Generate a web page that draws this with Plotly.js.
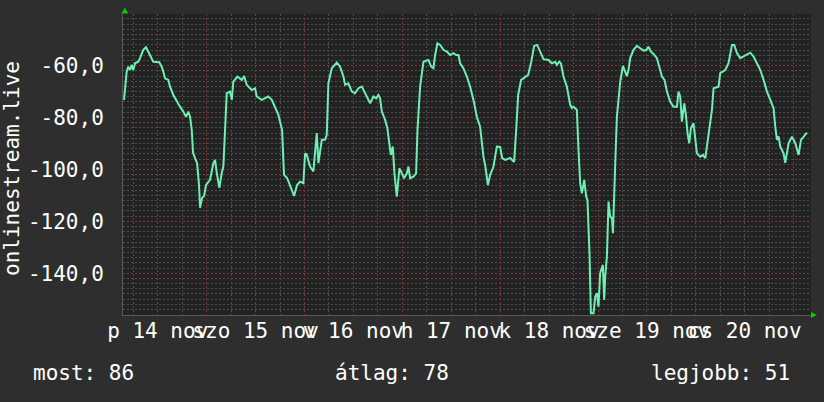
<!DOCTYPE html>
<html>
<head>
<meta charset="utf-8">
<script src="https://cdn.plot.ly/plotly-3.0.1.min.js"></script>
<style>html,body{margin:0;padding:0;background:#2e2e2e;}#chart{width:824px;height:402px;}</style>
</head>
<body>
<div id="chart"></div>
<script>
// ---- data ----
const times = [
"2025-11-14 03:44","2025-11-14 04:23","2025-11-14 04:47","2025-11-14 05:12","2025-11-14 05:37","2025-11-14 06:01","2025-11-14 06:26","2025-11-14 07:14","2025-11-14 07:39","2025-11-14 08:28",
"2025-11-14 09:08","2025-11-14 09:41","2025-11-14 10:32","2025-11-14 10:55","2025-11-14 12:23","2025-11-14 12:59","2025-11-14 13:22","2025-11-14 13:47","2025-11-14 14:36","2025-11-14 15:01",
"2025-11-14 15:50","2025-11-14 16:40","2025-11-14 17:28","2025-11-14 18:17","2025-11-14 18:57","2025-11-14 19:31","2025-11-14 19:56","2025-11-14 20:21","2025-11-14 20:40","2025-11-14 21:09",
"2025-11-14 21:39","2025-11-14 22:08","2025-11-14 22:23","2025-11-14 22:52","2025-11-14 23:22","2025-11-14 23:51",
"2025-11-15 00:21","2025-11-15 00:50","2025-11-15 01:39","2025-11-15 02:04","2025-11-15 02:29","2025-11-15 03:07","2025-11-15 03:43","2025-11-15 04:06","2025-11-15 04:31","2025-11-15 04:56",
"2025-11-15 05:44","2025-11-15 06:10","2025-11-15 06:33","2025-11-15 07:32","2025-11-15 08:37","2025-11-15 09:11","2025-11-15 09:50","2025-11-15 11:04","2025-11-15 11:53","2025-11-15 12:17",
"2025-11-15 13:31","2025-11-15 15:08","2025-11-15 15:59","2025-11-15 16:47","2025-11-15 17:36","2025-11-15 18:30","2025-11-15 18:59","2025-11-15 19:44","2025-11-15 20:28","2025-11-15 21:27",
"2025-11-15 22:11","2025-11-15 22:55","2025-11-15 23:44",
"2025-11-16 00:09","2025-11-16 00:34","2025-11-16 01:22","2025-11-16 02:11","2025-11-16 03:01","2025-11-16 03:25","2025-11-16 04:15","2025-11-16 05:04","2025-11-16 05:28","2025-11-16 05:52",
"2025-11-16 06:42","2025-11-16 07:56","2025-11-16 08:44","2025-11-16 09:33","2025-11-16 09:58","2025-11-16 10:46","2025-11-16 11:37","2025-11-16 12:25","2025-11-16 13:14","2025-11-16 14:04",
"2025-11-16 14:52","2025-11-16 15:41","2025-11-16 16:06","2025-11-16 16:55","2025-11-16 17:34","2025-11-16 18:08","2025-11-16 18:33","2025-11-16 18:58","2025-11-16 19:47","2025-11-16 20:20",
"2025-11-16 20:46","2025-11-16 21:11","2025-11-16 21:40","2025-11-16 22:04","2025-11-16 22:39","2025-11-16 23:17","2025-11-16 23:53",
"2025-11-17 00:26","2025-11-17 01:06","2025-11-17 01:30","2025-11-17 01:55","2025-11-17 02:43","2025-11-17 03:23","2025-11-17 03:43","2025-11-17 04:22","2025-11-17 05:11","2025-11-17 06:25",
"2025-11-17 07:04","2025-11-17 07:38","2025-11-17 08:03","2025-11-17 08:37","2025-11-17 09:17","2025-11-17 10:05","2025-11-17 10:55","2025-11-17 11:44","2025-11-17 12:32","2025-11-17 13:12",
"2025-11-17 13:46","2025-11-17 14:11","2025-11-17 14:59","2025-11-17 15:50","2025-11-17 16:38","2025-11-17 17:27","2025-11-17 18:17","2025-11-17 19:05","2025-11-17 19:54","2025-11-17 20:23",
"2025-11-17 20:59","2025-11-17 21:33","2025-11-17 22:22","2025-11-17 23:11",
"2025-11-18 00:00","2025-11-18 00:29","2025-11-18 01:14","2025-11-18 02:27","2025-11-18 03:26","2025-11-18 03:56","2025-11-18 04:25","2025-11-18 05:09","2025-11-18 06:08","2025-11-18 06:52",
"2025-11-18 07:37","2025-11-18 08:20","2025-11-18 09:05","2025-11-18 09:49","2025-11-18 10:38","2025-11-18 11:51","2025-11-18 12:41","2025-11-18 13:30","2025-11-18 13:55","2025-11-18 14:29",
"2025-11-18 14:54","2025-11-18 15:32","2025-11-18 16:22","2025-11-18 17:11","2025-11-18 17:36","2025-11-18 17:59","2025-11-18 18:49","2025-11-18 19:13","2025-11-18 19:38","2025-11-18 20:03",
"2025-11-18 20:37","2025-11-18 21:07","2025-11-18 21:25","2025-11-18 21:55","2025-11-18 22:15","2025-11-18 22:54","2025-11-18 23:19","2025-11-18 23:44",
"2025-11-19 00:07","2025-11-19 00:32","2025-11-19 01:12","2025-11-19 01:31","2025-11-19 01:46","2025-11-19 02:11","2025-11-19 02:35","2025-11-19 02:59","2025-11-19 03:25","2025-11-19 03:40",
"2025-11-19 03:48","2025-11-19 04:13","2025-11-19 04:38","2025-11-19 05:02","2025-11-19 05:27","2025-11-19 06:07","2025-11-19 06:40","2025-11-19 07:05","2025-11-19 07:29","2025-11-19 07:54",
"2025-11-19 08:43","2025-11-19 09:33","2025-11-19 10:22","2025-11-19 11:10","2025-11-19 11:50","2025-11-19 12:23","2025-11-19 12:59","2025-11-19 13:37","2025-11-19 14:27","2025-11-19 15:05",
"2025-11-19 15:41","2025-11-19 16:19","2025-11-19 16:55","2025-11-19 17:43","2025-11-19 18:32","2025-11-19 19:22","2025-11-19 19:45","2025-11-19 20:10","2025-11-19 20:35","2025-11-19 21:09",
"2025-11-19 21:34","2025-11-19 21:58","2025-11-19 22:23","2025-11-19 22:48","2025-11-19 23:26","2025-11-19 23:51",
"2025-11-20 00:16","2025-11-20 01:05","2025-11-20 01:44","2025-11-20 02:19","2025-11-20 02:43","2025-11-20 03:22","2025-11-20 03:57","2025-11-20 04:21","2025-11-20 05:34","2025-11-20 05:59",
"2025-11-20 07:13","2025-11-20 08:01","2025-11-20 08:52","2025-11-20 09:25","2025-11-20 10:05","2025-11-20 10:54","2025-11-20 11:43","2025-11-20 12:32","2025-11-20 13:21","2025-11-20 14:10",
"2025-11-20 15:00","2025-11-20 15:49","2025-11-20 16:37","2025-11-20 17:27","2025-11-20 18:16","2025-11-20 19:04","2025-11-20 19:29","2025-11-20 19:54","2025-11-20 20:18","2025-11-20 20:43",
"2025-11-20 21:31","2025-11-20 21:56","2025-11-20 22:45","2025-11-20 23:35",
"2025-11-21 00:24","2025-11-21 01:13","2025-11-21 01:48","2025-11-21 02:26","2025-11-21 03:16"
];
const values = [
-73.2,-62.3,-60.4,-61.7,-59.7,-61.7,-59.1,-58.5,-57.1,-53.9,
-52.9,-54.6,-57.1,-58.5,-58.7,-60.4,-62.3,-64.9,-65.5,-68.1,
-71.3,-73.9,-75.8,-77.7,-79.7,-77.7,-79.7,-84.8,-93.6,-95.6,
-97.5,-106.0,-114.8,-111.0,-110.2,-106.0,
-104.8,-104.0,-97.6,-96.3,-101.3,-107.1,-101.3,-98.9,-84.8,-70.6,
-70.0,-73.2,-66.2,-64.2,-65.5,-64.0,-67.4,-69.4,-68.7,-71.9,
-73.2,-71.9,-73.2,-75.8,-79.0,-84.8,-102.1,-103.3,-106.0,-110.2,
-106.0,-104.7,-105.3,
-93.8,-94.4,-98.9,-100.8,-86.0,-97.6,-88.6,-88.6,-86.7,-66.8,
-61.0,-58.8,-60.4,-64.2,-67.4,-66.8,-70.0,-70.6,-68.7,-68.1,
-70.6,-72.6,-74.5,-71.9,-72.6,-71.3,-72.6,-77.7,-80.9,-84.1,
-90.6,-94.4,-91.2,-101.5,-110.5,-99.5,-101.5,
-103.4,-101.5,-98.9,-103.4,-102.8,-101.5,-84.8,-68.1,-58.5,-57.8,
-60.4,-61.0,-55.9,-51.4,-52.0,-53.9,-54.6,-55.9,-55.2,-55.9,
-55.9,-59.1,-61.0,-64.2,-68.1,-73.2,-79.7,-83.5,-95.1,-98.9,
-106.0,-102.1,-98.9,-91.2,
-91.3,-95.6,-96.3,-95.6,-97.1,-84.8,-71.3,-65.5,-64.4,-63.6,
-58.6,-52.4,-52.0,-54.6,-57.5,-57.8,-59.1,-58.5,-59.7,-58.5,
-59.1,-64.2,-68.1,-75.1,-76.4,-75.8,-77.1,-92.5,-105.3,-109.2,
-104.0,-110.5,-111.8,-132.3,-155.4,-155.4,-149.0,-147.7,
-152.9,-140.0,-136.8,-150.3,-141.3,-133.6,-112.4,-118.2,-118.8,-124.6,
-115.6,-98.3,-79.7,-73.2,-66.2,-60.1,-62.3,-64.0,-61.7,-57.1,
-53.9,-52.4,-53.3,-54.2,-54.0,-52.7,-54.6,-55.5,-57.1,-60.4,
-64.2,-65.5,-70.0,-73.9,-75.8,-75.8,-70.0,-71.9,-81.6,-74.5,
-79.0,-86.1,-89.9,-84.1,-82.2,-88.0,
-93.8,-95.1,-94.4,-95.7,-91.2,-83.5,-77.1,-68.7,-68.1,-62.9,
-61.7,-59.1,-52.0,-52.0,-55.2,-57.1,-56.5,-55.9,-55.0,-56.5,
-59.1,-61.7,-65.5,-70.0,-73.2,-76.4,-83.5,-88.6,-87.3,-91.2,
-93.8,-97.5,-89.9,-87.4,
-89.9,-94.4,-88.6,-87.4,-85.8
];
const dayLabelPositions = ["2025-11-14 12:00","2025-11-15 12:00","2025-11-16 12:00","2025-11-17 12:00","2025-11-18 12:00","2025-11-19 12:00","2025-11-20 12:00"];
const dayLabels = ["p 14 nov","szo 15 nov","v 16 nov","h 17 nov","k 18 nov","sze 19 nov","cs 20 nov"];
const yTickVals = [-140, -120, -100, -80, -60];
const yTickText = ["-140,0", "-120,0", "-100,0", "-80,0", "-60,0"];
const xRange = ["2025-11-14 03:29", "2025-11-21 04:15"];
const yRange = [-156.1, -40.1];
const seriesName = "onlinestream.live";
const summaryLabels = ["most: 86", "átlag: 78", "legjobb: 51"];

// ---- styles ----
const FONT = "DejaVu Sans Mono, monospace";
const majorGrid = "#7a3434";
const minorGrid = "#4e4e4e";
const dash = "2px,2px";

// minor horizontal grid positions every 2 units, skipping the labelled (major) ones
const yMinorVals = [];
for (let v = -156; v <= -40; v += 2) { if (v % 20 !== 0) yMinorVals.push(v); }

const traces = [
  {
    x: times, y: values, type: "scatter", mode: "lines",
    line: {color: "#6cf0b4", width: 2},
    xaxis: "x", yaxis: "y", hoverinfo: "skip", showlegend: false
  },
  {
    x: [xRange[0]], y: [null], type: "scatter", mode: "lines",
    xaxis: "x2", yaxis: "y", hoverinfo: "skip", showlegend: false
  }
];

const layout = {
  width: 824, height: 402,
  paper_bgcolor: "#2e2e2e", plot_bgcolor: "#222222",
  margin: {l: 123, r: 13, t: 14, b: 87, pad: 0},
  font: {family: FONT, size: 21, color: "#ffffff"},
  showlegend: false,
  xaxis: {
    type: "date", range: xRange, fixedrange: true,
    tickmode: "array", tickvals: dayLabelPositions, ticktext: dayLabels,
    tickangle: 0, showgrid: false, zeroline: false, ticks: "",
    ticklabelstandoff: -3,
    showline: true, linecolor: "#5a5a5a", linewidth: 1,
    tickfont: {family: FONT, size: 21, color: "#ffffff"}
  },
  xaxis2: {
    type: "date", range: xRange, overlaying: "x", anchor: "y", side: "bottom",
    tick0: "2025-11-14 00:00", dtick: 86400000, tickmode: "linear",
    showgrid: true, gridcolor: majorGrid, griddash: dash, gridwidth: 1,
    showticklabels: false, ticks: "", zeroline: false, showline: false,
    minor: {tickmode: "linear", tick0: "2025-11-14 00:00", dtick: 21600000, showgrid: true, gridcolor: minorGrid, griddash: dash, gridwidth: 1}
  },
  yaxis: {
    range: yRange, fixedrange: true,
    tickmode: "array", tickvals: yTickVals, ticktext: yTickText,
    showgrid: true, gridcolor: majorGrid, griddash: dash, gridwidth: 1,
    minor: {tickmode: "array", tickvals: yMinorVals, showgrid: true, gridcolor: minorGrid, griddash: dash, gridwidth: 1},
    zeroline: false, ticks: "", ticklabelstandoff: 14,
    showline: true, linecolor: "#5a5a5a", linewidth: 1,
    tickfont: {family: FONT, size: 21, color: "#ffffff"}
  },
  annotations: [
    {text: seriesName, xref: "paper", yref: "paper", x: (12 - 123) / 687.7, y: (315 - 168) / 301,
     xanchor: "center", yanchor: "middle", textangle: -90, showarrow: false,
     font: {family: FONT, size: 21, color: "#ffffff"}},
    {text: summaryLabels[0], xref: "paper", yref: "paper", x: (31 - 123) / 687.7, y: (315 - 373) / 301,
     xanchor: "left", yanchor: "middle", showarrow: false, font: {family: FONT, size: 21, color: "#ffffff"}},
    {text: summaryLabels[1], xref: "paper", yref: "paper", x: (392 - 123) / 687.7, y: (315 - 373) / 301,
     xanchor: "center", yanchor: "middle", showarrow: false, font: {family: FONT, size: 21, color: "#ffffff"}},
    {text: summaryLabels[2], xref: "paper", yref: "paper", x: (792 - 123) / 687.7, y: (315 - 373) / 301,
     xanchor: "right", yanchor: "middle", showarrow: false, font: {family: FONT, size: 21, color: "#ffffff"}}
  ],
  shapes: [
    {type: "path", xref: "paper", yref: "paper", xsizemode: "pixel", ysizemode: "pixel",
     xanchor: 0, yanchor: 1, path: "M -1.5,0.5 L 5,0.5 L 1.8,6.5 Z",
     fillcolor: "#00cc00", line: {width: 0}, layer: "above"},
    {type: "path", xref: "paper", yref: "paper", xsizemode: "pixel", ysizemode: "pixel",
     xanchor: 1, yanchor: 0, path: "M 0,3 L 0,-3 L 6,0 Z",
     fillcolor: "#00cc00", line: {width: 0}, layer: "above"}
  ]
};

Plotly.newPlot("chart", traces, layout, {displayModeBar: false, staticPlot: true});
</script>
</body>
</html>
